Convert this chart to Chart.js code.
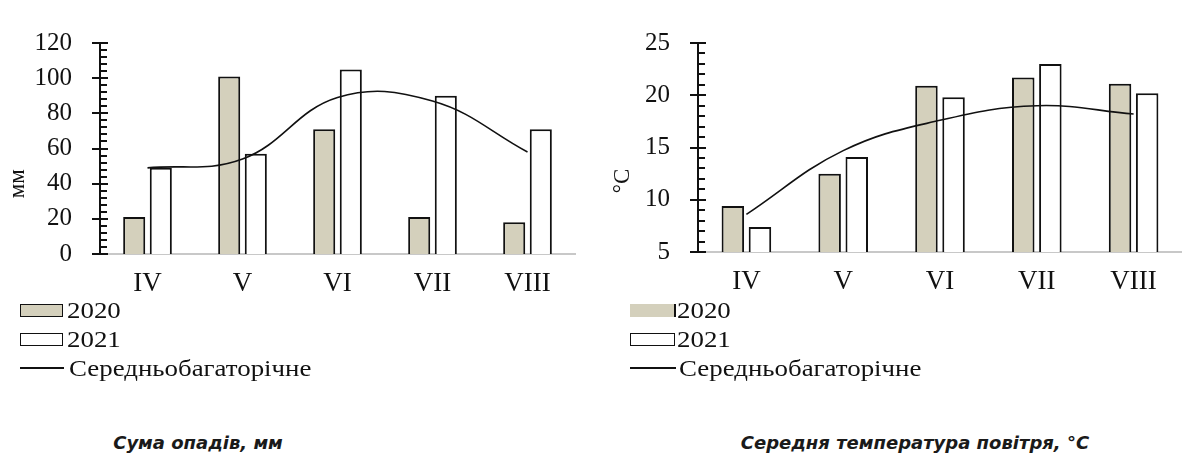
<!DOCTYPE html>
<html>
<head>
<meta charset="utf-8">
<script src="https://cdn.jsdelivr.net/npm/chart.js@4.4.1/dist/chart.umd.min.js"></script>
<style>
  html, body { margin: 0; padding: 0; background: #fff; }
  body { width: 1182px; height: 455px; position: relative; overflow: hidden; }
  .cv { position: absolute; top: 0; }
  .legend { position: absolute; font-family: "Liberation Serif", serif; font-size: 24px; color: #111; }
  .row { position: absolute; left: 0; white-space: nowrap; height: 28px; line-height: 28px; }
  .sw { position: absolute; left: 0; }
  .txt { position: absolute; transform: scaleX(1.12); transform-origin: 0 50%; }
  .caption { position: absolute; top: 432px; font-family: "DejaVu Sans", sans-serif; font-weight: bold; font-style: italic; font-size: 18px; color: #1a1a1a; white-space: nowrap; transform: translateX(-50%); }
</style>
</head>
<body>
<div class="cv" style="left:0px"><canvas id="c1" width="590" height="300"></canvas></div>
<div class="cv" style="left:590px"><canvas id="c2" width="592" height="300"></canvas></div>

<div class="legend" style="left:20px; top:296px;">
  <div class="row" style="top:0"><div class="sw" style="top:8px;width:41px;height:11px;background:#d4d0bc;border:1.5px solid #111;"></div><div class="txt" style="left:47px">2020</div></div>
  <div class="row" style="top:29px"><div class="sw" style="top:8px;width:41px;height:11px;background:#fff;border:1.5px solid #111;"></div><div class="txt" style="left:47px">2021</div></div>
  <div class="row" style="top:58px"><div class="sw" style="top:13px;width:44px;height:2px;background:#111;"></div><div class="txt" style="left:49px">Середньобагаторічне</div></div>
</div>

<div class="legend" style="left:630px; top:296px;">
  <div class="row" style="top:0"><div class="sw" style="top:8px;width:44px;height:13px;background:#d4d0bc;border-right:2px solid #111;"></div><div class="txt" style="left:47px">2020</div></div>
  <div class="row" style="top:29px"><div class="sw" style="top:8px;width:43px;height:11px;background:#fff;border:1.5px solid #111;"></div><div class="txt" style="left:47px">2021</div></div>
  <div class="row" style="top:58px"><div class="sw" style="top:13px;width:46px;height:2px;background:#111;"></div><div class="txt" style="left:49px">Середньобагаторічне</div></div>
</div>

<div class="caption" style="left:198px">Сума опадів, мм</div>
<div class="caption" style="left:915px">Середня температура повітря, °С</div>

<script>
// ---- data ----
const months = ['IV', 'V', 'VI', 'VII', 'VIII'];
const seriesNames = ['2020', '2021', 'Середньобагаторічне'];

const precip2020 = [21, 101, 71, 21, 18];
const precip2021 = [49, 57, 105, 90, 71];
const precipAvg  = [49, 54, 89, 87, 58];
const precipTicks = [0, 20, 40, 60, 80, 100, 120];
const precipMinorStep = 4;
const precipUnit = 'мм';

const temp2020 = [9.4, 12.5, 20.9, 21.7, 21.1];
const temp2021 = [7.4, 14.1, 19.8, 23.0, 20.2];
const tempAvg  = [8.6, 14.7, 17.6, 19.0, 18.2];
const tempTicks = [5, 10, 15, 20, 25];
const tempMinorStep = 1;
const tempUnit = '°С';

// ---- styles ----
const BEIGE = '#d4d0bc';
const INK = '#111';
const yFont = { family: 'Liberation Serif', size: 25 };
const xFont = { family: 'Liberation Serif', size: 27 };

const minorTicksPlugin = {
  id: 'minorTicks',
  afterDraw(chart, args, opts) {
    const y = chart.scales.y;
    const ctx = chart.ctx;
    const ax = chart.chartArea.left;
    ctx.save();
    ctx.strokeStyle = INK;
    ctx.lineWidth = 2;
    const ticks = opts.ticks;
    const step = opts.minor;
    const major = ticks[1] - ticks[0];
    for (let v = ticks[0]; v <= ticks[ticks.length - 1] + 1e-9; v += step) {
      const py = Math.round(y.getPixelForValue(v));
      const r = (v - ticks[0]) / major;
      const isMajor = Math.abs(r - Math.round(r)) < 1e-6;
      ctx.beginPath();
      if (isMajor) { ctx.moveTo(ax - 8, py); ctx.lineTo(ax + 8, py); }
      else { ctx.moveTo(ax, py); ctx.lineTo(ax + 7, py); }
      ctx.stroke();
    }
    // axis title
    ctx.fillStyle = INK;
    ctx.font = '23px "Liberation Serif"';
    ctx.textAlign = 'center';
    ctx.textBaseline = 'middle';
    ctx.translate(opts.titleX, y.getPixelForValue(opts.titleAt));
    ctx.rotate(-Math.PI / 2);
    ctx.fillText(opts.title, 0, 0);
    ctx.restore();
  }
};

function makeChart(id, d2020, d2021, dAvg, ticks, minor, unit, axisW, rightPad, bottom, titleX, titleAt) {
  return new Chart(document.getElementById(id), {
    type: 'bar',
    data: {
      labels: months,
      datasets: [
        { type: 'line', label: seriesNames[2], data: dAvg, borderColor: INK, borderWidth: 1.6,
          pointRadius: 0, tension: 0.4, fill: false, order: 0 },
        { label: seriesNames[0], data: d2020, backgroundColor: BEIGE, borderColor: INK, borderWidth: 2,
          categoryPercentage: 0.56, barPercentage: 0.83, order: 1 },
        { label: seriesNames[1], data: d2021, backgroundColor: '#fff', borderColor: INK, borderWidth: 2,
          categoryPercentage: 0.56, barPercentage: 0.83, order: 1 }
      ]
    },
    options: {
      responsive: false,
      animation: false,
      layout: { padding: { top: 24, right: rightPad, left: 0, bottom: 0 } },
      plugins: {
        legend: { display: false },
        tooltip: { enabled: false },
        minorTicks: { ticks: ticks, minor: minor, title: unit, titleX: titleX, titleAt: titleAt }
      },
      scales: {
        x: {
          grid: { display: false, drawTicks: false },
          border: { display: true, color: '#c8c8c8', width: 2 },
          ticks: { font: xFont, color: INK, padding: 14 },
          afterFit(s) { s.height = 300 - bottom; }
        },
        y: {
          min: ticks[0], max: ticks[ticks.length - 1],
          grid: { display: false, drawTicks: false, tickLength: 0 },
          border: { display: true, color: INK, width: 2 },
          ticks: { stepSize: ticks[1] - ticks[0], font: yFont, color: INK, padding: 28 },
          afterFit(s) { s.width = axisW; }
        }
      }
    },
    plugins: [minorTicksPlugin]
  });
}

makeChart('c1', precip2020, precip2021, precipAvg, precipTicks, precipMinorStep, precipUnit, 100, 15, 254, 18, 40);
makeChart('c2', temp2020, temp2021, tempAvg, tempTicks, tempMinorStep, tempUnit, 108, 0, 252, 33, 11.8);
</script>
</body>
</html>
